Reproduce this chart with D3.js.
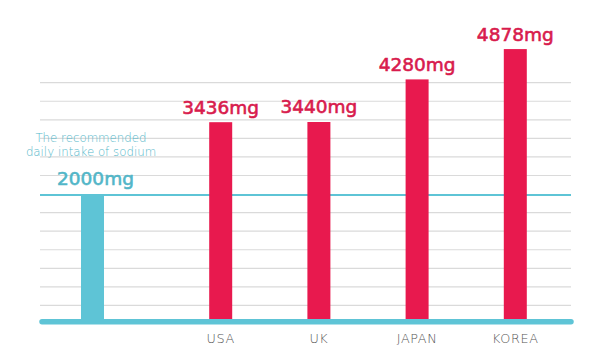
<!DOCTYPE html>
<html>
<head>
<meta charset="utf-8">
<script src="https://cdn.jsdelivr.net/npm/d3@7"></script>
<style>
  html, body { margin: 0; padding: 0; background: #ffffff; }
  svg { display: block; }
</style>
</head>
<body>
<div id="chart"></div>
<script>
// ---- data ----
const countries = ["USA", "UK", "JAPAN", "KOREA"];
const sodiumMg = [3436, 3440, 4280, 4878];
const recommendedMg = 2000;
const recommendedNote = ["The recommended", "daily intake of sodium"];
const unit = "mg";
const gridRows = d3.range(1, 14); // 13 light grid rules

// ---- layout ----
const W = 600, H = 358;
const left = 40, right = 571;
const baseY = 321.7;
const red = "#e8194e", redText = "#d81b4d";
const teal = "#5ec4d6", tealText = "#52b6c8";

const svg = d3.select("#chart").append("svg").attr("width", W).attr("height", H);

const y = d3.scaleLinear().domain([0, 5000]).range([296.4, 42.9]);
const yGrid = d3.scaleLinear().domain([0, 13]).range([324, 82.7]);
const x = d3.scalePoint().domain(countries).range([220.7, 515.3]);
const refX = 92.5;
const barW = 23;

// grid rules
svg.append("g").selectAll("line")
  .data(gridRows.filter(k => k !== 7))
  .join("line")
  .attr("x1", left).attr("x2", right)
  .attr("y1", d => yGrid(d)).attr("y2", d => yGrid(d))
  .attr("stroke", "#dadada").attr("stroke-width", 1.2);

// recommended line
svg.append("line")
  .attr("x1", left).attr("x2", right)
  .attr("y1", y(recommendedMg)).attr("y2", y(recommendedMg))
  .attr("stroke", teal).attr("stroke-width", 2);

// recommended bar
svg.append("rect")
  .attr("x", refX - barW / 2).attr("width", barW)
  .attr("y", y(recommendedMg)).attr("height", baseY - y(recommendedMg))
  .attr("fill", teal);

// country bars
svg.append("g").selectAll("rect")
  .data(countries)
  .join("rect")
  .attr("x", d => x(d) - barW / 2).attr("width", barW)
  .attr("y", (d, i) => y(sodiumMg[i]))
  .attr("height", (d, i) => baseY - y(sodiumMg[i]))
  .attr("fill", red);

// baseline
svg.append("line")
  .attr("x1", left + 2).attr("x2", right)
  .attr("y1", baseY).attr("y2", baseY)
  .attr("stroke", teal).attr("stroke-width", 5.5)
  .attr("stroke-linecap", "round");

// value labels
svg.append("g").selectAll("text")
  .data(countries)
  .join("text")
  .attr("x", d => x(d))
  .attr("y", (d, i) => y(sodiumMg[i]) - 8.5)
  .attr("text-anchor", "middle")
  .attr("font-family", "DejaVu Sans, sans-serif")
  .attr("font-size", 18.5)
  .attr("fill", redText).attr("stroke", redText).attr("stroke-width", 0.6)
  .text((d, i) => sodiumMg[i] + unit);

svg.append("text")
  .attr("x", refX + 3).attr("y", y(recommendedMg) - 10.5)
  .attr("text-anchor", "middle")
  .attr("font-family", "DejaVu Sans, sans-serif")
  .attr("font-size", 18.5)
  .attr("fill", tealText).attr("stroke", tealText).attr("stroke-width", 0.6)
  .text(recommendedMg + unit);

// note
svg.append("g").selectAll("text")
  .data(recommendedNote)
  .join("text")
  .attr("x", 91)
  .attr("y", (d, i) => 141.8 + i * 14)
  .attr("text-anchor", "middle")
  .attr("font-family", "DejaVu Sans, sans-serif")
  .attr("font-weight", 200)
  .attr("font-size", 11.8)
  .attr("fill", "#55b8ca")
  .text(d => d);

// category labels
svg.append("g").selectAll("text")
  .data(countries)
  .join("text")
  .attr("x", d => x(d))
  .attr("y", 342.7)
  .attr("text-anchor", "middle")
  .attr("font-family", "DejaVu Sans, sans-serif")
  .attr("font-weight", 200)
  .attr("font-size", 12.8)
  .attr("letter-spacing", 0.6)
  .attr("fill", "#555555")
  .text(d => d);
</script>
</body>
</html>
